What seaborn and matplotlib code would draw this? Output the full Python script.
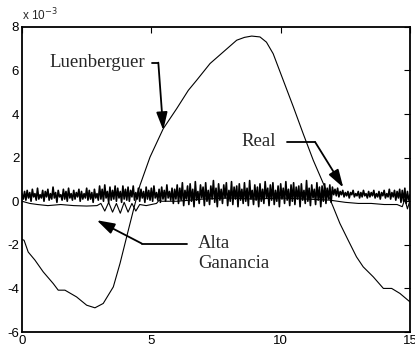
import numpy as np
import pandas as pd
import matplotlib
matplotlib.use("Agg")
import matplotlib.pyplot as plt
import seaborn as sns

# ---- data (values in units of 1e-3) ----
luen_t = [0.0, 0.08, 0.24, 0.5, 0.82, 1.21, 1.40, 1.66, 2.11, 2.5, 2.82, 3.14, 3.53,
          3.79, 4.11, 4.37, 4.56, 4.95, 5.46, 5.98, 6.43, 6.75, 7.27, 7.78, 8.3,
          8.6, 8.88, 9.2, 9.45, 9.71, 10.1, 10.49, 10.87, 11.26, 11.65, 12.03, 12.29,
          12.61, 12.93, 13.19, 13.58, 13.97, 14.29, 14.61, 15.0]
luen_v = [-1.75, -1.79, -2.33, -2.7, -3.24, -3.78, -4.08, -4.08, -4.39, -4.77, -4.89,
          -4.69, -3.93, -2.85, -1.33, -0.11, 0.73, 2.03, 3.33, 4.25, 5.09, 5.55,
          6.32, 6.85, 7.39, 7.52, 7.58, 7.54, 7.3, 6.77, 5.55, 4.33, 3.1, 1.88, 0.81,
          -0.26, -1.02, -1.79, -2.55, -3.01, -3.47, -4.0, -4.0, -4.23, -4.62]

real_v = [
    # 0 - 3
    0.35, 0.10, 0.45, 0.05, 0.50, 0.15, 0.40, 0.00, 0.55, 0.20, 0.35, 0.05, 0.60, 0.10, 0.30,
    0.15, 0.50, 0.00, 0.45, 0.20, 0.55, 0.05, 0.35, 0.10, 0.65, 0.15, 0.40, -0.05, 0.50, 0.20,
    0.30, 0.05, 0.55, 0.10, 0.45, 0.00, 0.60, 0.15, 0.35, 0.05, 0.50, 0.10, 0.40, 0.20, 0.55,
    0.00, 0.45, 0.10, 0.35, 0.15, 0.60, 0.05, 0.50, 0.10, 0.40, -0.05, 0.55, 0.15, 0.35, 0.05,
    # 3 - 6
    0.70, 0.10, 0.55, 0.00, 0.75, 0.15, 0.45, -0.05, 0.65, 0.05, 0.50, 0.10, 0.70, 0.00, 0.60,
    0.15, 0.45, -0.05, 0.70, 0.10, 0.55, 0.05, 0.65, 0.00, 0.50, 0.20, 0.70, 0.05, 0.40, 0.10,
    0.60, 0.00, 0.55, 0.15, 0.45, -0.05, 0.65, 0.10, 0.50, 0.05, 0.60, 0.00, 0.70, 0.15, 0.40,
    0.05, 0.55, -0.05, 0.65, 0.10, 0.50, 0.00, 0.75, 0.15, 0.45, 0.05, 0.60, -0.10, 0.55, 0.10,
    # 6 - 12
    0.75, -0.10, 0.60, 0.05, 0.85, -0.20, 0.50, 0.10, 0.70, -0.15, 0.80, 0.00, 0.55, -0.25, 0.90,
    0.05, 0.45, -0.10, 0.75, 0.15, 0.65, -0.20, 0.85, 0.00, 0.50, -0.15, 0.70, 0.10, 0.95, -0.05,
    0.60, -0.25, 0.80, 0.05, 0.55, -0.10, 0.75, 0.15, 0.85, -0.20, 0.50, 0.00, 0.90, -0.15, 0.65,
    0.10, 0.70, -0.25, 0.80, 0.05, 0.55, -0.10, 0.85, 0.00, 0.60, -0.20, 0.95, 0.10, 0.50, -0.15,
    0.75, 0.05, 0.65, -0.25, 0.80, 0.00, 0.55, -0.10, 0.90, 0.15, 0.60, -0.20, 0.75, 0.05, 0.85,
    -0.15, 0.50, 0.00, 0.70, -0.25, 0.80, 0.10, 0.60, -0.10, 0.90, 0.05, 0.55, -0.20, 0.75, 0.00,
    0.85, -0.15, 0.65, 0.10, 0.70, -0.25, 0.80, 0.05, 0.50, -0.10, 0.95, 0.00, 0.60, -0.20, 0.75,
    0.15, 0.55, -0.15, 0.85, 0.05, 0.65, -0.25, 0.70, 0.00, 0.80, -0.10, 0.60, 0.10, 0.75, -0.05,
    # 12 - 15
    0.65, 0.30, 0.55, 0.25, 0.60, 0.20, 0.45, 0.30, 0.50, 0.20, 0.40, 0.25, 0.45, 0.15, 0.40,
    0.30, 0.50, 0.20, 0.35, 0.25, 0.45, 0.15, 0.40, 0.20, 0.50, 0.25, 0.35, 0.15, 0.45, 0.20,
    0.40, 0.25, 0.50, 0.15, 0.35, 0.20, 0.45, 0.10, 0.40, 0.25, 0.50, 0.15, 0.35, 0.20, 0.55,
    0.10, 0.40, 0.20, 0.50, 0.05, 0.45, 0.15, 0.55, -0.05, 0.50, 0.00, 0.60, -0.10, 0.45, 0.05,
    0.30,
]
real_t = np.linspace(0, 15, len(real_v))

alta_t = [0, 0.3, 0.6, 1.0, 1.5, 2.0, 2.5, 2.9, 3.05, 3.2, 3.35, 3.5, 3.65, 3.8, 3.95, 4.1,
          4.25, 4.4, 4.55, 4.8, 5.0, 5.2, 5.3, 5.4, 6.0, 7.0, 8.0, 9.0, 10.0, 11.0, 11.9,
          12.5, 13.0, 13.5, 14.0, 14.5, 14.7, 14.8, 14.9, 15.0]
alta_v = [0.0, -0.1, -0.15, -0.2, -0.15, -0.2, -0.22, -0.2, -0.1, -0.45, -0.05, -0.5,
          -0.1, -0.55, -0.05, -0.5, -0.1, -0.45, -0.15, -0.2, -0.15, -0.1, 0.05, 0.0, 0.0,
          0.1, 0.15, 0.1, 0.15, 0.1, 0.05, -0.05, -0.1, -0.1, -0.15, -0.15, -0.25, 0.1,
          -0.35, 0.05]

x_ticks = [0, 5, 10, 15]
y_ticks = [-6, -4, -2, 0, 2, 4, 6, 8]

# ---- figure ----
sns.set_theme(style="white")
plt.rcParams["font.family"] = ["Liberation Sans", "DejaVu Sans"]

fig = plt.figure(figsize=(4.15, 3.56), dpi=100)
ax = fig.add_axes([0.053, 0.0674, 0.935, 0.857])

sns.lineplot(x=real_t, y=real_v, color="black", lw=1.2, estimator=None, sort=False, ax=ax)
sns.lineplot(x=alta_t, y=alta_v, color="black", lw=0.8, estimator=None, sort=False, ax=ax)
sns.lineplot(x=luen_t, y=luen_v, color="black", lw=0.8, estimator=None, sort=False, ax=ax)

ax.set_xlim(0, 15)
ax.set_ylim(-6, 8)
ax.set_xticks(x_ticks)
ax.set_yticks(y_ticks)
ax.set_xticklabels([str(v) for v in x_ticks])
ax.set_yticklabels([str(v) for v in y_ticks])
ax.tick_params(direction="in", length=4, width=0.8, top=True, right=True,
               labelsize=9.5, colors="black", pad=2)
for s in ax.spines.values():
    s.set_color("black")
    s.set_linewidth(1.3)

ax.text(0.0, 1.012, r"x 10$^{-3}$", transform=ax.transAxes, fontsize=8.5,
        ha="left", va="bottom")

serif = ["Liberation Serif", "DejaVu Serif"]
arrow_kw = dict(arrowstyle="-|>,head_length=0.9,head_width=0.28", color="black", lw=1.3,
                shrinkA=0, shrinkB=0)
fs = 13.5

# Luenberguer
ax.text(4.75, 6.36, "Luenberguer", family=serif, fontsize=fs, ha="right", va="center")
ax.plot([5.01, 5.27], [6.36, 6.36], color="black", lw=1.3)
ax.annotate("", xy=(5.46, 3.26), xytext=(5.27, 6.36), arrowprops=arrow_kw)

# Real
ax.text(9.8, 2.72, "Real", family=serif, fontsize=fs, ha="right", va="center")
ax.plot([10.26, 11.33], [2.72, 2.72], color="black", lw=1.3)
ax.annotate("", xy=(12.42, 0.63), xytext=(11.33, 2.72), arrowprops=arrow_kw)

# Alta Ganancia
ax.text(6.8, -1.94, "Alta", family=serif, fontsize=fs, ha="left", va="center")
ax.text(6.8, -2.87, "Ganancia", family=serif, fontsize=fs, ha="left", va="center")
ax.plot([4.63, 6.37], [-1.94, -1.94], color="black", lw=1.3)
ax.annotate("", xy=(2.89, -0.87), xytext=(4.63, -1.94), arrowprops=arrow_kw)

fig.savefig("out.png", dpi=100)
